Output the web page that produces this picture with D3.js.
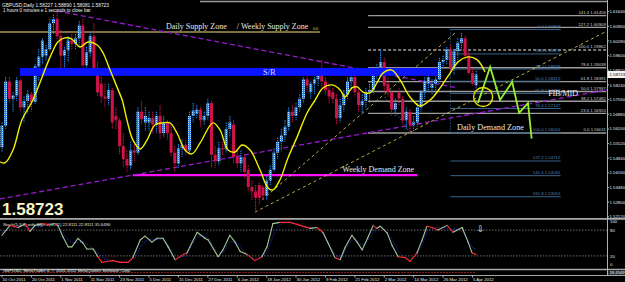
<!DOCTYPE html>
<html><head><meta charset="utf-8">
<script src="https://cdn.jsdelivr.net/npm/d3@7/dist/d3.min.js"></script>
<style>html,body{margin:0;padding:0;background:#000;overflow:hidden}</style>
</head><body><svg id="c" width="625" height="282"></svg>
<script>
// ---------------- DATA ----------------
const opens = [1.5535,1.5635,1.5840,1.5760,1.5775,1.5845,1.5720,1.5750,1.5780,1.5745,
1.5910,1.5955,1.5960,1.5990,1.6110,1.6130,1.6050,1.5960,1.5985,1.6030,
1.6015,1.6040,1.6100,1.5915,1.5975,1.6050,1.5895,1.5830,1.5770,1.5760,
1.5800,1.5680,1.5660,1.5540,1.5480,1.5450,1.5520,1.5510,1.5700,1.5650,
1.5650,1.5670,1.5640,1.5680,1.5600,1.5650,1.5600,1.5510,1.5460,1.5530,
1.5545,1.5520,1.5680,1.5690,1.5710,1.5660,1.5680,1.5740,1.5500,1.5470,
1.5530,1.5525,1.5620,1.5640,1.5490,1.5460,1.5490,1.5430,1.5350,1.5330,
1.5360,1.5350,1.5310,1.5380,1.5430,1.5510,1.5560,1.5590,1.5630,1.5700,
1.5680,1.5720,1.5760,1.5850,1.5790,1.5830,1.5850,1.5880,1.5840,1.5800,
1.5790,1.5760,1.5670,1.5730,1.5780,1.5840,1.5860,1.5790,1.5730,1.5750,
1.5790,1.5800,1.5890,1.5900,1.5930,1.5830,1.5790,1.5710,1.5790,1.5760,
1.5660,1.5700,1.5640,1.5650,1.5720,1.5790,1.5830,1.5810,1.5830,1.5850,
1.5930,1.5940,1.5990,1.5900,1.5980,1.6020,1.6040,1.5960,1.5880,1.58227];
const highs = [1.5650,1.5860,1.5860,1.5790,1.5860,1.5850,1.5770,1.5800,1.5790,1.5920,
1.5990,1.6040,1.6010,1.6130,1.6150,1.6170,1.6080,1.6000,1.6050,1.6070,
1.6060,1.6120,1.6130,1.6000,1.6070,1.6110,1.5930,1.5860,1.5830,1.5830,
1.5810,1.5720,1.5670,1.5600,1.5520,1.5560,1.5560,1.5720,1.5750,1.5720,
1.5700,1.5700,1.5700,1.5730,1.5680,1.5660,1.5640,1.5540,1.5550,1.5570,
1.5570,1.5700,1.5740,1.5730,1.5720,1.5700,1.5760,1.5750,1.5540,1.5560,
1.5560,1.5650,1.5680,1.5660,1.5520,1.5520,1.5500,1.5450,1.5380,1.5360,
1.5370,1.5360,1.5400,1.5450,1.5530,1.5580,1.5620,1.5660,1.5720,1.5730,
1.5740,1.5780,1.5860,1.5880,1.5840,1.5860,1.5900,1.5940,1.5860,1.5830,
1.5810,1.5780,1.5760,1.5800,1.5860,1.5880,1.5880,1.5800,1.5780,1.5810,
1.5840,1.5900,1.5920,1.5986,1.5950,1.5860,1.5800,1.5760,1.5810,1.5770,
1.5720,1.5710,1.5680,1.5740,1.5800,1.5860,1.5880,1.5850,1.5870,1.5950,
1.5960,1.6000,1.6010,1.5990,1.6040,1.6065,1.6050,1.5980,1.5900,1.58890];
const lows = [1.5515,1.5620,1.5740,1.5700,1.5750,1.5700,1.5650,1.5690,1.5700,1.5735,
1.5840,1.5920,1.5935,1.5980,1.6060,1.6030,1.5900,1.5900,1.5930,1.5990,
1.5990,1.6000,1.5890,1.5890,1.5950,1.5880,1.5770,1.5740,1.5720,1.5730,
1.5620,1.5620,1.5500,1.5440,1.5420,1.5430,1.5470,1.5500,1.5640,1.5610,
1.5610,1.5600,1.5600,1.5570,1.5580,1.5570,1.5490,1.5420,1.5440,1.5490,
1.5500,1.5510,1.5650,1.5670,1.5630,1.5640,1.5660,1.5440,1.5440,1.5450,
1.5500,1.5510,1.5580,1.5460,1.5440,1.5420,1.5390,1.5330,1.5290,1.5234,
1.5270,1.5290,1.5290,1.5360,1.5420,1.5480,1.5520,1.5560,1.5610,1.5650,
1.5660,1.5700,1.5740,1.5790,1.5760,1.5780,1.5820,1.5810,1.5780,1.5740,
1.5740,1.5640,1.5650,1.5700,1.5760,1.5800,1.5770,1.5700,1.5690,1.5720,
1.5740,1.5780,1.5850,1.5880,1.5790,1.5770,1.5680,1.5680,1.5730,1.5640,
1.5620,1.5601,1.5605,1.5630,1.5700,1.5760,1.5790,1.5780,1.5780,1.5830,
1.5900,1.5920,1.5880,1.5870,1.5940,1.5980,1.5940,1.5870,1.5820,1.58081];
const closes = [1.5635,1.5840,1.5760,1.5775,1.5845,1.5720,1.5750,1.5780,1.5745,1.5910,
1.5955,1.6030,1.5990,1.6110,1.6130,1.6050,1.5960,1.5985,1.6030,1.6015,
1.6040,1.6100,1.5915,1.5975,1.6050,1.5895,1.5790,1.5770,1.5760,1.5800,
1.5650,1.5660,1.5540,1.5480,1.5450,1.5520,1.5510,1.5700,1.5665,1.5680,
1.5670,1.5640,1.5680,1.5600,1.5650,1.5600,1.5510,1.5460,1.5530,1.5545,
1.5520,1.5680,1.5705,1.5710,1.5660,1.5680,1.5740,1.5500,1.5470,1.5530,
1.5525,1.5620,1.5650,1.5490,1.5460,1.5490,1.5420,1.5350,1.5330,1.5300,
1.5300,1.5310,1.5380,1.5430,1.5510,1.5560,1.5590,1.5630,1.5700,1.5680,
1.5720,1.5760,1.5850,1.5820,1.5830,1.5850,1.5880,1.5840,1.5800,1.5770,
1.5760,1.5670,1.5730,1.5780,1.5840,1.5860,1.5790,1.5730,1.5750,1.5790,
1.5800,1.5890,1.5900,1.5930,1.5820,1.5790,1.5710,1.5740,1.5760,1.5660,
1.5700,1.5640,1.5650,1.5720,1.5790,1.5840,1.5860,1.5830,1.5850,1.5930,
1.5940,1.5990,1.5900,1.5980,1.6020,1.6040,1.5960,1.5880,1.5830,1.58723];

// smoothed yellow band line (bar position, price)
const tmaBar = [-0.5,0.8,3.0,5.4,8.4,13.1,15.2,17.1,19.0,21.2,23.4,25.9,27.5,29.4,31.6,32.7,34.0,35.6,37.6,39.5,41.6,43.8,45.7,47.6,49.8,51.7,53.9,57.4,59.3,61.5,63.4,65.3,67.5,70.2,72.4,73.7,75.6,77.8,80.3,83.0,85.2,87.3,89.8,92.0,93.3,95.2,96.6,98.2,100.1,102.0,103.7,106.1,108.3,111.0,113.7,116.5,119.2,121.9,124.1,126.8,129.3,131.4];
const tmaVal = [1.5467,1.5462,1.5522,1.5661,1.5754,1.5954,1.6023,1.6042,1.6037,1.6000,1.6023,1.6009,1.5972,1.5893,1.5801,1.5754,1.5661,1.5569,1.5527,1.5569,1.5638,1.5648,1.5648,1.5601,1.5522,1.5504,1.5555,1.5648,1.5615,1.5522,1.5513,1.5545,1.5522,1.5429,1.5346,1.5337,1.5383,1.5485,1.5583,1.5694,1.5754,1.5810,1.5824,1.5801,1.5768,1.5810,1.5815,1.5791,1.5787,1.5833,1.5880,1.5893,1.5847,1.5768,1.5726,1.5754,1.5810,1.5879,1.5931,1.5954,1.5940,1.5884];

// projected zigzag
const zigBar = [129.5,132.8,135.5,138.8,140.7,143.1,144.1];
const zigVal = [1.5740,1.5907,1.5754,1.5838,1.5694,1.5740,1.5575];

// stochastic main & signal
const stBar = [0,2.2,4.4,6.3,7.6,9.0,10.9,13.1,14.4,15.2,16.6,18.0,19.0,20.7,22.0,23.1,24.8,26.1,27.2,28.6,30.2,32.1,34.3,35.6,37.6,38.9,40.8,42.2,43.8,45.2,47.1,49.3,50.3,53.1,55.2,56.1,58.8,60.1,62.0,63.4,64.8,66.7,68.8,70.7,72.1,73.7,75.6,78.4,81.1,83.8,85.7,87.3,88.7,90.6,92.0,93.3,95.2,96.6,98.0,99.6,101.0,102.0,102.9,104.8,106.1,107.8,109.7,111.0,112.9,114.3,115.6,117.0,118.6,121.1,122.7,125.2,126.8,127.9,129.0];
const stVal = [68,91,86,95,77,91,95,93,95,91,64,41,41,61,50,36,36,18,5,7,9,5,5,16,57,66,52,61,61,41,11,23,27,75,61,57,18,34,68,52,30,23,9,18,41,95,98,98,91,84,86,75,50,16,11,39,68,52,34,64,91,84,89,73,45,18,16,7,27,57,89,86,80,91,75,86,52,27,23];
const sgBar = [0,2,4,6,8,10,12,14,16,18,20,22,24,26,28,30,32,34,36,38,40,42,44,46,48,50,52,54,56,58,60,62,64,66,68,70,72,74,76,78,80,82,84,86,88,90,92,94,96,98,100,102,104,106,108,110,112,114,116,118,120,122,124,126,128,129];
const sgVal = [75,82,88,90,85,88,93,94,80,58,50,52,42,28,12,8,7,6,14,45,58,58,58,35,18,22,50,66,62,35,28,52,48,30,16,14,30,70,94,97,95,88,86,82,62,32,16,42,60,45,62,86,82,60,30,14,16,40,78,86,86,82,82,70,40,36];

// fibonacci levels
const fibALevels = ["141.4","127.2","100.0","78.6","61.8","50.0","38.2","23.6","0.0"];
const fibAPrices = [1.61456,1.60909,1.59862,1.59038,1.58391,1.57937,1.57482,1.56920,1.56011];
const fibBLevels = ["0.0","23.6","38.2","50.0","61.8","76.4","100.0","127.2","141.4","161.8"];
const fibBPrices = [1.60809,1.59678,1.58978,1.58413,1.57847,1.57147,1.56016,1.54712,1.54031,1.53053];

// axes
const priceTicks = [1.61640,1.60960,1.60280,1.59600,1.58920,1.58240,1.57560,1.56880,1.56200,1.55520,1.54840,1.54160,1.53480,1.52800,1.52120];
const dateTickBars = [0,8,16,24,32,40,48,56,64,72,80,88,96,104,112,120,128];
const dateTickLabels = ["10 Oct 2011","20 Oct 2011","1 Nov 2011","11 Nov 2011","23 Nov 2011","5 Dec 2011","15 Dec 2011","27 Dec 2011","6 Jan 2012","18 Jan 2012","30 Jan 2012","9 Feb 2012","21 Feb 2012","2 Mar 2012","14 Mar 2012","26 Mar 2012","5 Apr 2012"];
const stochTicks = [100,80,20,0];

// zones / trendlines (bar, price)
const srZone = {b0:4.9, b1:118.6, p0:1.5866, p1:1.5903};
const supplyLine = {b0:-0.6, b1:86.5, p:1.6069};
const demandLine = {b0:35.6, b1:113.0, p:1.5406};
const purpleLines = [[15.0,1.6167,124.1,1.5810],[-0.6,1.5295,164.6,1.5801]];
const khakiLines = [[68.8,1.5234,164.6,1.6074],[70.7,1.5290,123.3,1.6065]];
const lastPrice = 1.58723;

// ---------------- DRAW ----------------
const svg = d3.select('#c');
svg.append('rect').attr('width',625).attr('height',282).attr('fill','#000');
const x = d3.scaleLinear().domain([-0.544,164.6]).range([0,607]);
const y = d3.scaleLinear().domain([1.5202,1.6218]).range([219,0]);
const ys = d3.scaleLinear().domain([0,100]).range([264.5,221.5]);
const small = "'Liberation Sans',Arial,sans-serif";

const defs = svg.append('defs');
defs.append('clipPath').attr('id','mc').append('rect').attr('x',0).attr('y',0).attr('width',607).attr('height',218);
const pat = defs.append('pattern').attr('id','bp').attr('width',2).attr('height',2).attr('patternUnits','userSpaceOnUse');
pat.append('rect').attr('width',2).attr('height',2).attr('fill','#1e8cff');
pat.append('rect').attr('width',1).attr('height',1).attr('fill','#b8e0ff');

const g = svg.append('g').attr('clip-path','url(#mc)');

// top grey line
g.append('line').attr('x1',200).attr('x2',607).attr('y1',1.5).attr('y2',1.5).attr('stroke','#9a9a9a').attr('stroke-width',1.5);

// fib A (grey)
fibAPrices.forEach((p,i)=>{
  g.append('line').attr('x1',x(99.6)).attr('x2',x(164.4)).attr('y1',y(p)).attr('y2',y(p))
   .attr('stroke','#9c9c9c').attr('stroke-width',1.4).attr('stroke-dasharray',fibALevels[i]==="100.0"?"3,2":null);
  g.append('text').attr('x',x(164.3)).attr('y',y(p)-1.5).attr('text-anchor','end')
   .attr('font-family',small).attr('font-size',4.3).attr('fill','#cfcfcf')
   .text(fibALevels[i]+'  '+p.toFixed(5));
});
// fib B (steel blue)
fibBPrices.forEach((p,i)=>{
  g.append('line').attr('x1',x(122)).attr('x2',x(152)).attr('y1',y(p)).attr('y2',y(p))
   .attr('stroke','#35638c').attr('stroke-width',1);
  g.append('text').attr('x',x(151.9)).attr('y',y(p)-1.5).attr('text-anchor','end')
   .attr('font-family',small).attr('font-size',4.3).attr('fill','#4f86b8')
   .text(fibBLevels[i]+'  '+p.toFixed(5));
});
g.append('line').attr('x1',x(122)).attr('x2',x(122)).attr('y1',y(fibBPrices[0])).attr('y2',y(fibBPrices[6]))
 .attr('stroke','#3b74a8').attr('stroke-width',1).attr('stroke-dasharray','1,2');
g.append('line').attr('x1',x(104.2)).attr('x2',x(111)).attr('y1',y(1.5768)).attr('y2',y(1.5601))
 .attr('stroke','#3b74a8').attr('stroke-width',1).attr('stroke-dasharray','1,2');

// supply line
g.append('line').attr('x1',x(supplyLine.b0)).attr('x2',x(supplyLine.b1)).attr('y1',y(supplyLine.p)).attr('y2',y(supplyLine.p))
 .attr('stroke','#7a703c').attr('stroke-width',2);
// demand line
g.append('line').attr('x1',x(demandLine.b0)).attr('x2',x(demandLine.b1)).attr('y1',y(demandLine.p)).attr('y2',y(demandLine.p))
 .attr('stroke','#ff10ff').attr('stroke-width',2.2);

// trend lines
purpleLines.forEach(l=>{
  g.append('line').attr('x1',x(l[0])).attr('y1',y(l[1])).attr('x2',x(l[2])).attr('y2',y(l[3]))
   .attr('stroke','#9a18d0').attr('stroke-width',1.3).attr('stroke-dasharray','5,3');
});
khakiLines.forEach(l=>{
  g.append('line').attr('x1',x(l[0])).attr('y1',y(l[1])).attr('x2',x(l[2])).attr('y2',y(l[3]))
   .attr('stroke','#b8ac48').attr('stroke-width',1).attr('stroke-dasharray','3,3');
});

// candles
const bars = d3.range(closes.length);
const cg = g.append('g');
bars.forEach(i=>{
  const bull = closes[i] >= opens[i];
  const cx = x(i);
  cg.append('line').attr('x1',cx).attr('x2',cx).attr('y1',y(highs[i])).attr('y2',y(lows[i]))
    .attr('stroke', bull ? '#1e8cff' : '#d0144a').attr('stroke-width',1).attr('stroke-dasharray','1.5,0.8');
  const top = y(Math.max(opens[i],closes[i])), bot = y(Math.min(opens[i],closes[i]));
  cg.append('rect').attr('x',cx-1.5).attr('width',3).attr('y',top).attr('height',Math.max(1,bot-top))
    .attr('fill', bull ? 'url(#bp)' : '#d0144a');
});

// S/R band (over candles)
g.append('rect').attr('x',x(srZone.b0)).attr('width',x(srZone.b1)-x(srZone.b0))
 .attr('y',y(srZone.p1)).attr('height',y(srZone.p0)-y(srZone.p1)).attr('fill','#0a14ff');

// yellow smoothed line
const tmaPts = tmaBar.map((b,i)=>[x(b),y(tmaVal[i])]);
g.append('path').attr('d',d3.line().curve(d3.curveCatmullRom.alpha(0.5))(tmaPts))
 .attr('fill','none').attr('stroke','#f0f000').attr('stroke-width',1.4);

// zigzag
const zigPts = zigBar.map((b,i)=>[x(b),y(zigVal[i])]);
g.append('path').attr('d',d3.line()(zigPts)).attr('fill','none').attr('stroke','#98f030').attr('stroke-width',1.8);
// circle
g.append('circle').attr('cx',x(130.9)).attr('cy',y(1.5768)).attr('r',9.5).attr('fill','none').attr('stroke','#e8e000').attr('stroke-width',1.4);

// annotation texts
const serif = "'Liberation Serif','DejaVu Serif',serif";
function ann(t,xx,yy,sz,col){ return svg.append('text').attr('x',xx).attr('y',yy).attr('font-family',serif).attr('font-size',sz).attr('fill',col||'#e6e6e6').text(t); }
ann('Daily Supply Zone', x(44.6), y(supplyLine.p)-3.5, 8, '#e8e8e0');
ann('/ Weekly Supply Zone', x(63.9), y(supplyLine.p)-3.5, 8, '#e8e8e0');
svg.append('text').attr('x',x(84.6)).attr('y',y(supplyLine.p)-2).attr('font-family',small).attr('font-size',3.8).attr('fill','#e0e020').text('0.0');
ann('S/R', x(71), y(srZone.p0)-1.3, 8.5, '#d8d8ff');
ann('Weekly Demand Zone', x(92.6), y(demandLine.p)-3, 8, '#e6e6e6');
ann('Daily Demand Zone', x(123.8), y(1.5600)-3, 8.2, '#e6e6e6');
ann('FIB/MID', x(148.6), y(1.5778)+1.5, 8.4, '#e6e6e6').attr('letter-spacing',-0.3);

// header texts
svg.append('text').attr('x',2).attr('y',6.5).attr('font-family',small).attr('font-size',4.8).attr('fill','#f0f0f0')
 .text('GBPUSD,Daily  '+[opens[129],highs[129],lows[129],closes[129]].map(v=>v.toFixed(5)).join(' '));
svg.append('text').attr('x',3).attr('y',12).attr('font-family',small).attr('font-size',4.6).attr('fill','#f0f0f0')
 .text('1 hours 0 minutes e 1 seconds to close bar');
svg.append('text').attr('x',2).attr('y',215).attr('font-family',small).attr('font-weight','bold')
 .attr('font-size',17).attr('fill','#f8f4c8').text(lastPrice.toFixed(5));

// panel separators & axis line
svg.append('line').attr('x1',0).attr('x2',625).attr('y1',218.8).attr('y2',218.8).attr('stroke','#a8a8a8').attr('stroke-width',1.8);
svg.append('line').attr('x1',0).attr('x2',625).attr('y1',269.5).attr('y2',269.5).attr('stroke','#a8a8a8').attr('stroke-width',1.4);
svg.append('line').attr('x1',0).attr('x2',625).attr('y1',275.5).attr('y2',275.5).attr('stroke','#a8a8a8').attr('stroke-width',1.2);
svg.append('line').attr('x1',607.5).attr('x2',607.5).attr('y1',0).attr('y2',276).attr('stroke','#b0b0b0').attr('stroke-width',1);

// price axis
priceTicks.forEach(p=>{
  svg.append('line').attr('x1',607).attr('x2',609).attr('y1',y(p)).attr('y2',y(p)).attr('stroke','#b0b0b0');
  svg.append('text').attr('x',609.5).attr('y',y(p)+1.6).attr('font-family',small).attr('font-size',4.3).attr('fill','#e8e8e8').text(p.toFixed(5));
});
svg.append('rect').attr('x',607.5).attr('y',y(lastPrice)-3.5).attr('width',17.5).attr('height',7).attr('fill','#f4f4f4');
svg.append('text').attr('x',609.5).attr('y',y(lastPrice)+1.6).attr('font-family',small).attr('font-size',4.3).attr('fill','#000').text(lastPrice.toFixed(5));

// stochastic panel
[80,20].forEach(v=>{
  svg.append('line').attr('x1',0).attr('x2',607).attr('y1',ys(v)).attr('y2',ys(v)).attr('stroke','#8a8a8a').attr('stroke-width',0.8).attr('stroke-dasharray','1.5,1.5');
});
stochTicks.forEach(v=>{
  svg.append('text').attr('x',610).attr('y',ys(v)+1.6).attr('font-family',small).attr('font-size',4.3).attr('fill','#e8e8e8').text(v);
});
svg.append('text').attr('x',3).attr('y',225.5).attr('font-family',small).attr('font-size',4.3).attr('fill','#e0e0e0')
 .text('Stoch(5,3,3) with Sign =(-1.81) 22.8111 22.8111 35.6496');
const sgPts = sgBar.map((b,i)=>[x(b),ys(sgVal[i])]);
svg.append('path').attr('d',d3.line().curve(d3.curveCatmullRom)(sgPts)).attr('fill','none')
 .attr('stroke','#3a3aff').attr('stroke-width',0.9).attr('stroke-dasharray','1,1.5');
for(let i=1;i<stBar.length;i++){
  const a = stVal[i-1], b = stVal[i];
  const red = (a>74 && b>74 && b<=a) || (a<30 && b<30);
  svg.append('line').attr('x1',x(stBar[i-1])).attr('y1',ys(a)).attr('x2',x(stBar[i])).attr('y2',ys(b))
   .attr('stroke', red ? '#ff2a2a' : '#a3c89a').attr('stroke-width',1.1).attr('stroke-linecap','round');
}
svg.append('text').attr('x',x(130.2)).attr('y',232).attr('text-anchor','middle').attr('font-family','DejaVu Sans').attr('font-size',9).attr('fill','#f0f0f0').text('⇩');

// bottom strip
svg.append('line').attr('x1',2).attr('x2',x(129)).attr('y1',272.5).attr('y2',272.5).attr('stroke','#8a1c1c').attr('stroke-width',1).attr('stroke-dasharray','2,1');
svg.append('text').attr('x',3).attr('y',272).attr('font-family',small).attr('font-size',4.3).attr('fill','#f0f0f0')
 .text('GBPUSD, MetaTrader 4, © 2001-2012 MetaQuotes Software Corp.');
svg.append('rect').attr('x',608).attr('y',270).attr('width',17).attr('height',5).attr('fill','#2a2a2a');
svg.append('text').attr('x',609.5).attr('y',274.2).attr('font-family',small).attr('font-size',4.2).attr('fill','#f0f0f0').text('18.4549');

// date axis
dateTickBars.forEach((b,i)=>{
  svg.append('line').attr('x1',x(b)).attr('x2',x(b)).attr('y1',275.5).attr('y2',277.5).attr('stroke','#b0b0b0');
  svg.append('text').attr('x',x(b)+0.5).attr('y',281).attr('font-family',small).attr('font-size',4.3).attr('fill','#e8e8e8').text(dateTickLabels[i]);
});
</script></body></html>
